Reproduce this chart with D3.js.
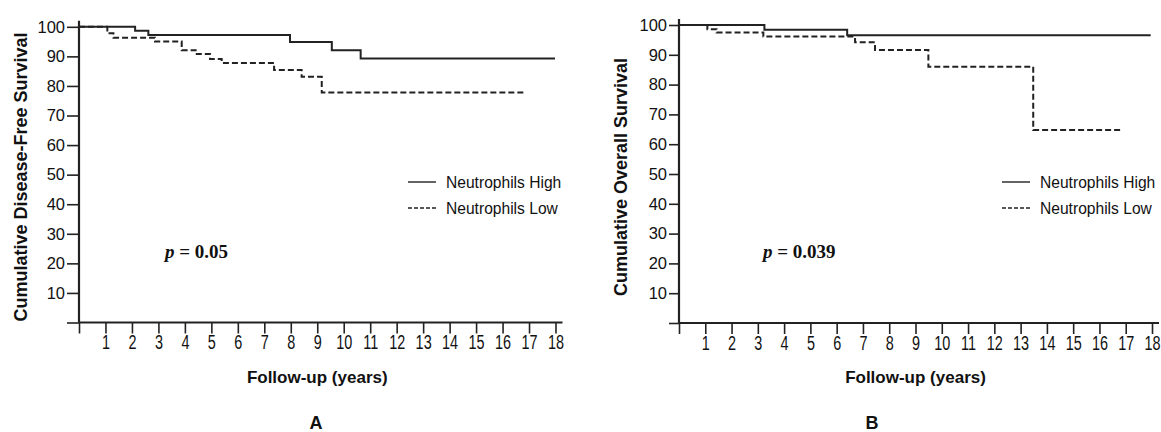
<!DOCTYPE html>
<html>
<head>
<meta charset="utf-8">
<script src="https://cdn.jsdelivr.net/npm/d3@7"></script>
<style>
  body { margin: 0; background: #fff; }
  svg { display: block; }
  text { fill: #111; }
</style>
</head>
<body>
<div id="chart"></div>
<script>
// tick values shared by both panels
const yearTicks = [0, 1, 2, 3, 4, 5, 6, 7, 8, 9, 10, 11, 12, 13, 14, 15, 16, 17, 18];
const survTicks = [0, 10, 20, 30, 40, 50, 60, 70, 80, 90, 100];

// panel A: disease-free survival (Kaplan-Meier steps: time of drop, survival after drop)
const dfsHighTime = [0, 2.12, 2.62, 7.97, 9.55, 10.64];
const dfsHighSurv = [100, 98.7, 97.2, 94.85, 92.1, 89.3];
const dfsHighEnd = 17.98;
const dfsLowTime = [0, 1.07, 1.3, 2.87, 3.88, 4.45, 4.95, 5.39, 7.37, 8.41, 9.17];
const dfsLowSurv = [100, 97.8, 96.3, 95.0, 92.1, 90.8, 89.1, 87.8, 85.4, 83.1, 77.8];
const dfsLowEnd = 16.89;

// panel B: overall survival
const osHighTime = [0, 3.25, 6.4];
const osHighSurv = [100, 98.4, 96.6];
const osHighEnd = 17.95;
const osLowTime = [0, 1.08, 1.43, 3.21, 6.7, 7.46, 9.49, 13.48];
const osLowSurv = [100, 98.6, 97.5, 96.1, 94.2, 91.6, 86.0, 64.8];
const osLowEnd = 16.85;

const legendLabels = ["Neutrophils High", "Neutrophils Low"];

const W = 1161, H = 432;
const svg = d3.select("#chart").append("svg").attr("width", W).attr("height", H);

function steps(times, surv, end) {
    let pts = times.map((t, i) => ({ t: t, s: surv[i] }));
    pts.push({ t: end, s: surv[surv.length - 1] });
    return pts;
}

function drawPanel(p) {
    const x = d3.scaleLinear().domain([0, 18]).range([p.x0, p.x1]);
    const y = d3.scaleLinear().domain([0, 100]).range([p.y0, p.y1]);
    const g = svg.append("g");

    //x axis
    const xAxis = d3.axisBottom(x).tickValues(yearTicks).tickSize(11).tickSizeOuter(0)
        .tickFormat((d) => (d === 0 ? "" : d));
    const gx = g.append("g").attr("transform", `translate(0,${p.y0})`).call(xAxis);
    gx.select(".domain").remove();
    gx.selectAll(".tick line").attr("stroke", "#222").attr("stroke-width", 1.6);
    gx.selectAll(".tick text")
        .attr("y", 13)
        .style("font", "19.5px 'Liberation Sans', Arial, sans-serif")
        .attr("transform", "scale(0.74,1)");

    //y axis
    const yAxis = d3.axisLeft(y).tickValues(survTicks).tickSize(p.ytick).tickSizeOuter(0)
        .tickFormat((d) => (d === 0 ? "" : d));
    const gy = g.append("g").attr("transform", `translate(${p.x0},0)`).call(yAxis);
    gy.select(".domain").remove();
    gy.selectAll(".tick line").attr("stroke", "#222").attr("stroke-width", 1.6);
    gy.selectAll(".tick text")
        .attr("x", -p.ytick - 2)
        .style("font", "16.5px 'Liberation Sans', Arial, sans-serif");

    // axis lines (a little past the last ticks like the original)
    g.append("line")
        .attr("x1", x(0)).attr("x2", x(0))
        .attr("y1", y(100) - 6).attr("y2", y(0))
        .attr("stroke", "#222").attr("stroke-width", 2.2);
    g.append("line")
        .attr("x1", x(0)).attr("x2", x(18) + 7)
        .attr("y1", y(0)).attr("y2", y(0))
        .attr("stroke", "#222").attr("stroke-width", 2.2);

    const line = d3.line().x((d) => x(d.t)).y((d) => y(d.s)).curve(d3.curveStepAfter);

    g.append("path")
        .datum(steps(p.lowTime, p.lowSurv, p.lowEnd))
        .attr("d", line)
        .attr("fill", "none")
        .attr("stroke", "#222")
        .attr("stroke-width", 2)
        .attr("stroke-dasharray", "6,3");

    g.append("path")
        .datum(steps(p.highTime, p.highSurv, p.highEnd))
        .attr("d", line)
        .attr("fill", "none")
        .attr("stroke", "#222")
        .attr("stroke-width", 2);

    // legend
    legendLabels.forEach((lab, i) => {
        const ly = 182 + i * 26;
        g.append("line")
            .attr("x1", p.legX).attr("x2", p.legX + 28)
            .attr("y1", ly).attr("y2", ly)
            .attr("stroke", "#222").attr("stroke-width", 1.4)
            .attr("stroke-dasharray", i === 1 ? "4,2" : null);
        g.append("text")
            .attr("x", p.legX + 38).attr("y", ly + 6)
            .style("font", "15.6px 'Liberation Sans', Arial, sans-serif")
            .text(lab);
    });

    // p value
    const pt = g.append("text")
        .attr("x", p.pX).attr("y", 258)
        .style("font", "bold 19px 'Liberation Serif', 'Times New Roman', serif");
    pt.append("tspan").style("font-style", "italic").text("p");
    pt.append("tspan").text(" = " + p.pval);

    // axis titles
    g.append("text")
        .attr("transform", `translate(${p.ytitleX},177) rotate(-90)`)
        .attr("text-anchor", "middle")
        .style("font", "bold 18px 'Liberation Sans', Arial, sans-serif")
        .text(p.ytitle);

    g.append("text")
        .attr("x", (p.x0 + p.x1) / 2).attr("y", 383)
        .attr("text-anchor", "middle")
        .style("font", "bold 17px 'Liberation Sans', Arial, sans-serif")
        .text("Follow-up (years)");

    g.append("text")
        .attr("x", p.letterX).attr("y", 429)
        .attr("text-anchor", "middle")
        .style("font", "bold 18px 'Liberation Sans', Arial, sans-serif")
        .text(p.letter);
}

drawPanel({
    x0: 79, x1: 555.5, y0: 322.5, y1: 26.8, ytick: 12,
    highTime: dfsHighTime, highSurv: dfsHighSurv, highEnd: dfsHighEnd,
    lowTime: dfsLowTime, lowSurv: dfsLowSurv, lowEnd: dfsLowEnd,
    legX: 408, pX: 165, pval: "0.05",
    ytitle: "Cumulative Disease-Free Survival", ytitleX: 27,
    letter: "A", letterX: 316
});

drawPanel({
    x0: 679, x1: 1152, y0: 323, y1: 25, ytick: 10,
    highTime: osHighTime, highSurv: osHighSurv, highEnd: osHighEnd,
    lowTime: osLowTime, lowSurv: osLowSurv, lowEnd: osLowEnd,
    legX: 1002, pX: 763, pval: "0.039",
    ytitle: "Cumulative Overall Survival", ytitleX: 627,
    letter: "B", letterX: 872
});
</script>
</body>
</html>
